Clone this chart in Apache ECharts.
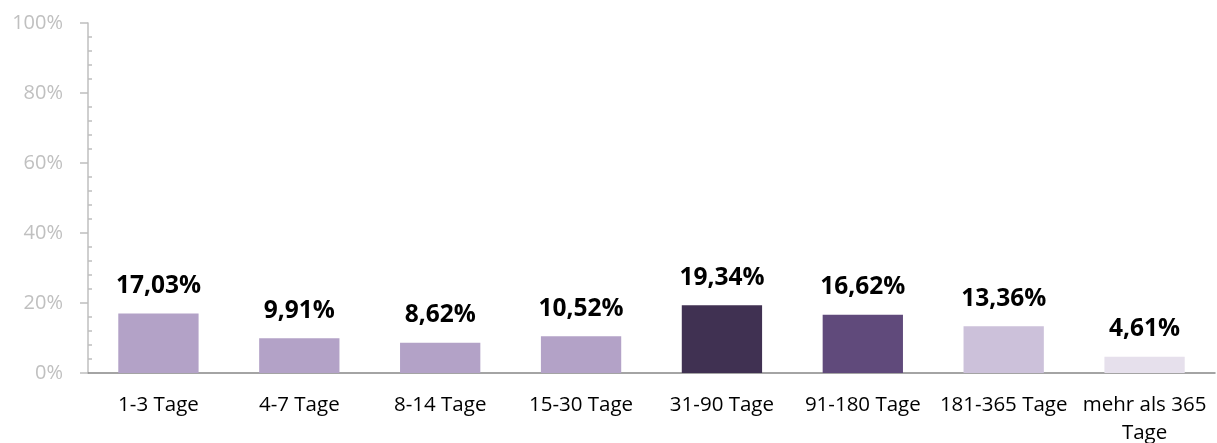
<!DOCTYPE html>
<html><head><meta charset="utf-8">
<script src="https://cdn.jsdelivr.net/npm/echarts@6/dist/echarts.min.js"></script>
<style>html,body{margin:0;padding:0;background:#fff}#c{width:1217px;height:443px}</style>
</head><body><div id="c"></div>
<script>
const categories = ['1-3 Tage','4-7 Tage','8-14 Tage','15-30 Tage','31-90 Tage','91-180 Tage','181-365 Tage','mehr als 365\nTage'];
const values = [17.03, 9.91, 8.62, 10.52, 19.34, 16.62, 13.36, 4.61];
const barColors = ['#B3A2C7','#B3A2C7','#B3A2C7','#B3A2C7','#403152','#604A7B','#CCC1DA','#E6E0EC'];
const yTicks = [0, 20, 40, 60, 80, 100];
const FONT = '"Open Sans", sans-serif';

const chart = echarts.init(document.getElementById('c'));
chart.setOption({
  animation: false,
  grid: {left: 88, right: 2, top: 23, bottom: 70, containLabel: false, outerBoundsMode: 'none'},
  xAxis: {
    type: 'category', data: categories,
    axisLine: {lineStyle: {color: '#868686', width: 1.5}},
    axisTick: {show: false},
    axisLabel: {color: '#000', fontSize: 20.5, fontFamily: FONT, margin: 18, lineHeight: 28, interval: 0}
  },
  yAxis: {
    type: 'value', min: yTicks[0], max: yTicks[yTicks.length-1], interval: 20,
    axisLine: {show: true, lineStyle: {color: '#BFBFBF', width: 1.5}},
    axisTick: {show: true, length: 8, lineStyle: {color: '#BFBFBF', width: 1.5}},
    minorTick: {show: true, splitNumber: 5, length: -4, lineStyle: {color: '#BFBFBF', width: 1.5}},
    splitLine: {show: false},
    axisLabel: {color: '#C0C0C0', fontSize: 20, fontFamily: FONT, margin: 25, formatter: v => v + '%'}
  },
  series: [{
    type: 'bar', barWidth: '57%',
    data: values.map((v, i) => ({value: v, itemStyle: {color: barColors[i]}})),
    label: {
      show: true, position: 'top', distance: 15,
      color: '#000', fontSize: 24.5, fontWeight: 'bold', fontFamily: FONT,
      formatter: p => p.value.toFixed(2).replace('.', ',') + '%'
    }
  }]
});
</script></body></html>
